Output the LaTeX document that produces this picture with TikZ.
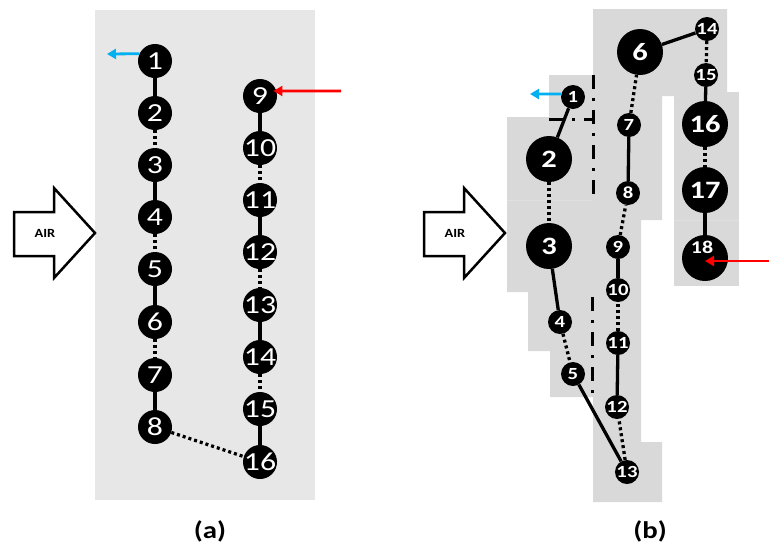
\documentclass[tikz,border=0pt]{standalone}
\usepackage{fontspec}
\setmainfont{Carlito}
\usepackage{graphicx}
\usetikzlibrary{arrows.meta}

\definecolor{panela}{HTML}{E7E7E7}
\definecolor{panelb}{HTML}{D9D9D9}
\definecolor{seam}{HTML}{E0E0E0}
\definecolor{outblue}{HTML}{00B0F0}
\definecolor{inred}{HTML}{FF0000}

% widened digits, kept from growing the circle
\newcommand\lbl[1]{\makebox[0pt]{\scalebox{1.22}[1]{#1}}}

\tikzset{
  nd/.style={circle, fill=black, inner sep=0pt, text=white},
  na/.style={nd, minimum size=34pt, font=\fontsize{26}{26}\selectfont},
  nbig/.style={nd, minimum size=46pt, font=\bfseries\fontsize{25}{25}\selectfont},
  nsm/.style={nd, minimum size=24pt, font=\bfseries\fontsize{17}{17}\selectfont},
  link/.style={line width=3.3pt},
  dots/.style={line width=3.3pt, dash pattern=on 3pt off 3pt},
  dashdot/.style={line width=3pt, dash pattern=on 14pt off 9pt on 3pt off 9pt},
  flowout/.style={outblue, line width=2.8pt, -{Triangle[length=9pt,width=10pt]}},
  flowin/.style={inred, line width=2.8pt, -{Triangle[length=9pt,width=10pt]}},
  airarrow/.style={draw=black, fill=white, line width=2.5pt, line join=miter},
  airtext/.style={font=\bfseries\fontsize{12.5}{12.5}\selectfont},
  caption/.style={font=\bfseries\fontsize{24}{24}\selectfont},
}

\begin{document}
\begin{tikzpicture}[x=1pt, y=-1pt]
\useasboundingbox (0,0) rectangle (769,547);

% ---------------- panel (a) ----------------
\fill[panela] (95,10) rectangle (315,500);

% inlet air arrow
\draw[airarrow] (14,212) -- (54,212) -- (54,188) -- (95,233) -- (54,278) -- (54,256) -- (14,256) -- cycle;
\node[airtext] (airA) at (45,233) {\scalebox{1.15}[1]{AIR}};

% left column
\node[na] (a1) at (155,61)  {\lbl{1}};
\node[na] (a2) at (155,113) {\lbl{2}};
\node[na] (a3) at (155,165) {\lbl{3}};
\node[na] (a4) at (155,217) {\lbl{4}};
\node[na] (a5) at (155,269) {\lbl{5}};
\node[na] (a6) at (155,322) {\lbl{6}};
\node[na] (a7) at (155,375) {\lbl{7}};
\node[na] (a8) at (155,427) {\lbl{8}};
% right column
\node[na] (a9)  at (260,96)  {\lbl{9}};
\node[na] (a10) at (260,148) {\lbl{10}};
\node[na] (a11) at (260,200) {\lbl{11}};
\node[na] (a12) at (260,252) {\lbl{12}};
\node[na] (a13) at (260,305) {\lbl{13}};
\node[na] (a14) at (260,357) {\lbl{14}};
\node[na] (a15) at (260,409) {\lbl{15}};
\node[na] (a16) at (260,462) {\lbl{16}};

\draw[link] (a1) -- (a2);
\draw[dots] (a2) -- (a3);
\draw[link] (a3) -- (a4);
\draw[dots] (a4) -- (a5);
\draw[link] (a5) -- (a6);
\draw[dots] (a6) -- (a7);
\draw[link] (a7) -- (a8);
\draw[dots] (a8) -- (a16);
\draw[link] (a9) -- (a10);
\draw[dots] (a10) -- (a11);
\draw[link] (a11) -- (a12);
\draw[dots] (a12) -- (a13);
\draw[link] (a13) -- (a14);
\draw[dots] (a14) -- (a15);
\draw[link] (a15) -- (a16);

\coordinate (aout) at (107,54);
\coordinate (ain) at (341,91);
\draw[flowout] (a1.155) -- (aout);
\draw[flowin] (ain) -- ([xshift=-3pt]a9.17);

\node[caption] (capA) at (210,531) {\scalebox{1.2}[1]{(a)}};

% ---------------- panel (b) ----------------
\fill[panelb] (593,9) -- (727,9) -- (727,96) -- (662,96) -- (662,220) -- (641,220)
  -- (641,442) -- (662,442) -- (662,502) -- (593,502) -- (593,397) -- (550,397)
  -- (550,351) -- (528,351) -- (528,292) -- (507,292) -- (507,117) -- (549,117)
  -- (549,75) -- (593,75) -- cycle;
\fill[panelb] (674,92) rectangle (739,286);
\draw[seam, line width=0.8pt] (507,200) -- (593,200);
\draw[seam, line width=0.8pt] (674,220) -- (739,220);

% partition lines
\draw[dashdot] (593,75) -- (593,196);
\draw[dashdot] (549,119) -- (593,119);
\draw[dashdot] (592,297) -- (592,397);

% inlet air arrow
\draw[airarrow] (424,212) -- (464,212) -- (464,188) -- (505,233) -- (464,278) -- (464,256) -- (424,256) -- cycle;
\node[airtext] (airB) at (455,233) {\scalebox{1.15}[1]{AIR}};

\node[nsm]  (b1)  at (573,97)  {\lbl{1}};
\node[nbig] (b2)  at (549,159) {\lbl{2}};
\node[nbig] (b3)  at (549,246) {\lbl{3}};
\node[nsm]  (b4)  at (560,322) {\lbl{4}};
\node[nsm]  (b5)  at (573,374) {\lbl{5}};
\node[nbig] (b6)  at (640,52)  {\lbl{6}};
\node[nsm]  (b7)  at (629,125) {\lbl{7}};
\node[nsm]  (b8)  at (628,193) {\lbl{8}};
\node[nsm]  (b9)  at (618,247) {\lbl{9}};
\node[nsm]  (b10) at (618,290) {\lbl{10}};
\node[nsm]  (b11) at (618,343) {\lbl{11}};
\node[nsm]  (b12) at (617,407) {\lbl{12}};
\node[nsm]  (b13) at (627,472) {\lbl{13}};
\node[nsm]  (b14) at (707,29)  {\lbl{14}};
\node[nsm]  (b15) at (706,75)  {\lbl{15}};
\node[nbig] (b16) at (705,124) {\lbl{16}};
\node[nbig] (b17) at (705,190) {\lbl{17}};
\node[nbig] (b18) at (705,258) {};
\node[text=white, font=\bfseries\fontsize{18}{18}\selectfont] (b18t) at (702,247) {\lbl{18}};

\draw[link] (b1) -- (b2);
\draw[dots] (b2) -- (b3);
\draw[link] (b3) -- (b4);
\draw[dots] (b4) -- (b5);
\draw[link] (b5) -- (b13);
\draw[dots] (b13) -- (b12);
\draw[link] (b12) -- (b11);
\draw[dots] (b11) -- (b10);
\draw[link] (b10) -- (b9);
\draw[dots] (b9) -- (b8);
\draw[link] (b8) -- (b7);
\draw[dots] (b7) -- (b6);
\draw[link] (b6) -- (b14);
\draw[dots] (b14) -- (b15);
\draw[link] (b15) -- (b16);
\draw[dots] (b16) -- (b17);
\draw[link] (b17) -- (b18);

\coordinate (bout) at (530,94);
\coordinate (bin) at (769,261);
\draw[flowout] (b1.166) -- (bout);
\draw[flowin] (bin) -- (bin -| b18.center);

\node[caption] (capB) at (650,531) {\scalebox{1.2}[1]{(b)}};
\end{tikzpicture}
\end{document}
